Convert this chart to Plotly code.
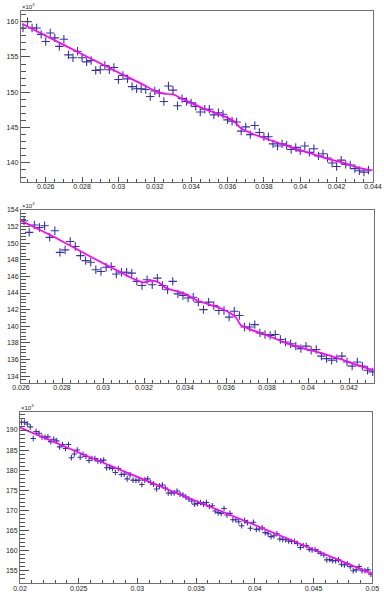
import plotly.graph_objects as go

# ---------------- data (values in units of 10^3) ----------------
x1 = [0.02475, 0.025, 0.02525, 0.0255, 0.02575, 0.026, 0.02625, 0.0265, 0.02675, 0.027,
      0.02725, 0.0275, 0.02775, 0.028, 0.02825, 0.0285, 0.02875, 0.029, 0.02925, 0.0295,
      0.02975, 0.03, 0.03025, 0.0305, 0.03075, 0.031, 0.03125, 0.0315, 0.03175, 0.032,
      0.03225, 0.0325, 0.03275, 0.033, 0.03325, 0.0335, 0.03375, 0.034, 0.03425, 0.0345,
      0.03475, 0.035, 0.03525, 0.0355, 0.03575, 0.036, 0.03625, 0.0365, 0.03675, 0.037,
      0.03725, 0.0375, 0.03775, 0.038, 0.03825, 0.0385, 0.03875, 0.039, 0.03925, 0.0395,
      0.03975, 0.04, 0.04025, 0.0405, 0.04075, 0.041, 0.04125, 0.0415, 0.04175, 0.042,
      0.04225, 0.0425, 0.04275, 0.043, 0.04325, 0.0435, 0.04375]
y1 = [159.1, 160.0, 159.1, 159.1, 158.2, 157.2, 158.4, 157.7, 156.5, 157.5,
      155.3, 154.9, 155.8, 154.9, 154.3, 154.5, 153.1, 153.2, 153.8, 153.2,
      153.5, 151.8, 152.4, 151.9, 150.8, 150.5, 150.5, 150.4, 149.4, 150.2,
      149.9, 148.7, 150.9, 150.3, 148.1, 149.1, 148.7, 148.5, 148.0, 147.2,
      147.6, 147.6, 146.8, 147.1, 146.9, 146.1, 145.9, 145.8, 144.5, 145.1,
      144.0, 145.3, 144.3, 143.7, 143.7, 142.7, 142.4, 142.7, 142.5, 141.9,
      142.2, 141.7, 142.4, 141.5, 142.0, 141.0, 141.3, 140.7, 140.0, 139.5,
      140.4, 139.8, 139.7, 139.2, 138.9, 138.7, 139.0]
fit1_x = [0.0247, 0.026, 0.028, 0.030, 0.0315, 0.032, 0.0325, 0.033, 0.0335, 0.0345,
          0.0355, 0.0363, 0.0367, 0.0372, 0.0385, 0.0395, 0.0405, 0.0415, 0.0425, 0.0431, 0.0439]
fit1_y = [159.7, 158.0, 155.4, 152.8, 150.9, 150.2, 149.8, 149.7, 149.1, 147.9,
          146.9, 146.0, 145.0, 144.3, 143.1, 142.2, 141.4, 140.6, 139.9, 139.4, 138.9]

x2 = [0.02615, 0.0264, 0.02665, 0.0269, 0.02715, 0.0274, 0.02765, 0.0279, 0.02815, 0.0284,
      0.02865, 0.0289, 0.02915, 0.0294, 0.02965, 0.0299, 0.03015, 0.0304, 0.03065, 0.0309,
      0.03115, 0.0314, 0.03165, 0.0319, 0.03215, 0.0324, 0.03265, 0.0329, 0.03315, 0.0334,
      0.03365, 0.0339, 0.03415, 0.0344, 0.03465, 0.0349, 0.03515, 0.0354, 0.03565, 0.0359,
      0.03615, 0.0364, 0.03665, 0.0369, 0.03715, 0.0374, 0.03765, 0.0379, 0.03815, 0.0384,
      0.03865, 0.0389, 0.03915, 0.0394, 0.03965, 0.0399, 0.04015, 0.0404, 0.04065, 0.0409,
      0.04115, 0.0414, 0.04165, 0.0419, 0.04215, 0.0424, 0.04265, 0.0429, 0.04315]
y2 = [152.7, 151.3, 152.2, 151.9, 152.1, 150.7, 151.5, 148.9, 149.2, 150.2,
      149.6, 148.5, 147.9, 147.7, 146.8, 146.6, 147.1, 147.2, 146.3, 146.5,
      146.5, 146.4, 145.4, 144.9, 145.6, 145.0, 145.8, 144.9, 144.4, 145.4,
      143.9, 143.7, 143.4, 143.5, 142.9, 142.0, 142.9, 142.5, 141.9, 141.9,
      141.1, 141.8, 141.3, 139.9, 139.9, 140.2, 139.2, 139.0, 138.9, 139.0,
      138.4, 138.1, 137.9, 137.6, 137.3, 137.6, 137.1, 137.2, 136.4, 136.1,
      135.9, 136.1, 136.4, 135.7, 135.2, 135.7, 135.2, 134.7, 134.5]
fit2_x = [0.026, 0.0275, 0.029, 0.0307, 0.0319, 0.0324, 0.0327, 0.033, 0.034, 0.0346,
          0.0357, 0.0362, 0.0365, 0.0367, 0.037, 0.0381, 0.0389, 0.0397, 0.0406, 0.0414,
          0.0422, 0.0432]
fit2_y = [152.7, 150.9, 148.9, 146.7, 145.3, 145.5, 145.3, 144.7, 143.9, 143.1,
          142.2, 141.6, 141.0, 140.2, 139.8, 138.8, 138.0, 137.4, 136.8, 136.2,
          135.5, 134.7]

x3 = [0.020125, 0.020375, 0.020625, 0.020875, 0.021125, 0.021375, 0.021625, 0.021875,
      0.022125, 0.022375, 0.022625, 0.022875, 0.023125, 0.023375, 0.023625, 0.023875,
      0.024125, 0.024375, 0.024625, 0.024875, 0.025125, 0.025375, 0.025625, 0.025875,
      0.026125, 0.026375, 0.026625, 0.026875, 0.027125, 0.027375, 0.027625, 0.027875,
      0.028125, 0.028375, 0.028625, 0.028875, 0.029125, 0.029375, 0.029625, 0.029875,
      0.030125, 0.030375, 0.030625, 0.030875, 0.031125, 0.031375, 0.031625, 0.031875,
      0.032125, 0.032375, 0.032625, 0.032875, 0.033125, 0.033375, 0.033625, 0.033875,
      0.034125, 0.034375, 0.034625, 0.034875, 0.035125, 0.035375, 0.035625, 0.035875,
      0.036125, 0.036375, 0.036625, 0.036875, 0.037125, 0.037375, 0.037625, 0.037875,
      0.038125, 0.038375, 0.038625, 0.038875, 0.039125, 0.039375, 0.039625, 0.039875,
      0.040125, 0.040375, 0.040625, 0.040875, 0.041125, 0.041375, 0.041625, 0.041875,
      0.042125, 0.042375, 0.042625, 0.042875, 0.043125, 0.043375, 0.043625, 0.043875,
      0.044125, 0.044375, 0.044625, 0.044875, 0.045125, 0.045375, 0.045625, 0.045875,
      0.046125, 0.046375, 0.046625, 0.046875, 0.047125, 0.047375, 0.047625, 0.047875,
      0.048125, 0.048375, 0.048625, 0.048875, 0.049125, 0.049375, 0.049625, 0.049875]
y3 = [191.9, 191.9, 191.5, 190.8, 187.9, 189.6, 189.2, 188.3, 188.2, 188.3,
      187.1, 187.7, 187.3, 185.8, 186.4, 185.4, 186.4, 183.1, 184.0, 185.0,
      183.2, 183.9, 183.4, 182.4, 182.9, 182.9, 182.3, 182.3, 182.5, 180.6,
      180.7, 180.4, 179.4, 180.4, 178.9, 179.0, 177.8, 178.8, 177.5, 177.4,
      177.5, 176.4, 177.5, 177.8, 176.9, 176.5, 175.3, 176.0, 176.3, 175.5,
      174.3, 174.3, 174.3, 174.8, 174.0, 173.8, 173.3, 172.8, 172.3, 171.5,
      171.7, 171.9, 171.5, 171.9, 170.9, 171.1, 169.8, 169.4, 169.2, 170.4,
      168.8, 169.2, 167.6, 167.6, 167.1, 166.1, 167.4, 166.9, 165.5, 167.0,
      165.2, 165.3, 165.6, 164.4, 164.1, 163.4, 163.6, 164.1, 162.8, 162.7,
      162.6, 162.3, 162.2, 162.2, 161.7, 160.7, 161.2, 161.2, 160.2, 160.1,
      160.2, 159.7, 159.2, 158.8, 157.6, 157.7, 157.4, 157.4, 157.6, 156.5,
      156.3, 156.6, 155.9, 154.9, 155.1, 155.9, 154.9, 154.9, 155.1, 154.0]
fit3_x = [0.02, 0.025, 0.03, 0.035, 0.04, 0.045, 0.05]
fit3_y = [190.6, 184.4, 178.3, 172.3, 166.3, 160.2, 154.1]

# tick labels
xt1 = [0.026, 0.028, 0.030, 0.032, 0.034, 0.036, 0.038, 0.040, 0.042, 0.044]
xl1 = ["0.026", "0.028", "0.03", "0.032", "0.034", "0.036", "0.038", "0.04", "0.042", "0.044"]
yt1 = [140, 145, 150, 155, 160]
yl1 = ["140", "145", "150", "155", "160"]
xt2 = [0.026, 0.028, 0.030, 0.032, 0.034, 0.036, 0.038, 0.040, 0.042]
xl2 = ["0.026", "0.028", "0.03", "0.032", "0.034", "0.036", "0.038", "0.04", "0.042"]
yt2 = [134, 136, 138, 140, 142, 144, 146, 148, 150, 152, 154]
yl2 = ["134", "136", "138", "140", "142", "144", "146", "148", "150", "152", "154"]
xt3 = [0.02, 0.025, 0.03, 0.035, 0.04, 0.045, 0.05]
xl3 = ["0.02", "0.025", "0.03", "0.035", "0.04", "0.045", "0.05"]
yt3 = [155, 160, 165, 170, 175, 180, 185, 190]
yl3 = ["155", "160", "165", "170", "175", "180", "185", "190"]

# ---------------- figure ----------------
W, H = 384, 595
BLUE = "#3434a8"
MAG = "#ff00ff"
FONT = dict(family="Liberation Sans, Arial, sans-serif", size=7, color="#222222")

fig = go.Figure()

panels = [
    (x1, y1, fit1_x, fit1_y, "", 6),
    (x2, y2, fit2_x, fit2_y, "2", 6),
    (x3, y3, fit3_x, fit3_y, "3", 4),
]
for x, y, fx, fy, s, ms in panels:
    fig.add_trace(go.Scatter(x=x, y=y, mode="markers", xaxis="x" + s, yaxis="y" + s,
                             marker=dict(symbol="cross-thin", size=ms, color=BLUE,
                                         line=dict(color=BLUE, width=1.1)),
                             showlegend=False, hoverinfo="skip"))
    fig.add_trace(go.Scatter(x=fx, y=fy, mode="lines", xaxis="x" + s, yaxis="y" + s,
                             line=dict(color=MAG, width=1.7, shape="spline", smoothing=0.8),
                             showlegend=False, hoverinfo="skip"))

def px_x(a, b):
    return [a / W, b / W]

def px_y(top, bottom):
    return [1 - bottom / H, 1 - top / H]

frames = [
    ((20.7, 373), (10.7, 182), [0.024625, 0.044], [137.3, 161.55], (xt1, xl1), (yt1, yl1), 0.0005, 1),
    ((21, 374.3), (210, 382.7), [0.026, 0.04323], [133.2, 154.0], (xt2, xl2), (yt2, yl2), 0.0004, 0.4),
    ((20, 372.3), (412, 583.3), [0.02, 0.05], [151.75, 194.5], (xt3, xl3), (yt3, yl3), 0.001, 1),
]
layout = dict(width=W, height=H, margin=dict(l=0, r=0, t=0, b=0),
              paper_bgcolor="white", plot_bgcolor="white", showlegend=False,
              font=FONT)
annotations = []
for i, (xd, yd, xr, yr, xt, yt, xm, ym) in enumerate(frames):
    s = "" if i == 0 else str(i + 1)
    axcommon = dict(showgrid=False, zeroline=False, showline=True, linecolor="#707070",
                    linewidth=1, mirror=True, ticks="inside", tickcolor="#505050",
                    tickwidth=1, tickfont=FONT, automargin=False, ticklabeloverflow="allow")
    layout["xaxis" + s] = dict(axcommon, domain=px_x(*xd), range=xr, anchor="y" + s,
                               tickmode="array", tickvals=xt[0], ticktext=xt[1], ticklen=5,
                               ticklabelstandoff=-2,
                               minor=dict(ticks="inside", ticklen=3, dtick=xm, tick0=0,
                                          tickcolor="#505050", showgrid=False))
    layout["yaxis" + s] = dict(axcommon, domain=px_y(*yd), range=yr, anchor="x" + s,
                               tickmode="array", tickvals=yt[0], ticktext=yt[1], ticklen=9,
                               minor=dict(ticks="inside", ticklen=5, dtick=ym, tick0=0,
                                          tickcolor="#505050", showgrid=False))
    annotations.append(dict(text="×10<sup>3</sup>", xref="paper", yref="paper",
                            x=xd[0] / W, y=1 - yd[0] / H, xanchor="left", yanchor="bottom",
                            showarrow=False, font=dict(FONT, size=6), xshift=-1, yshift=-1))
layout["annotations"] = annotations
fig.update_layout(**layout)
fig.write_html("out.html", config={"displayModeBar": False, "staticPlot": True},
               post_script="document.body.style.margin='0';document.body.style.overflow='hidden';")
